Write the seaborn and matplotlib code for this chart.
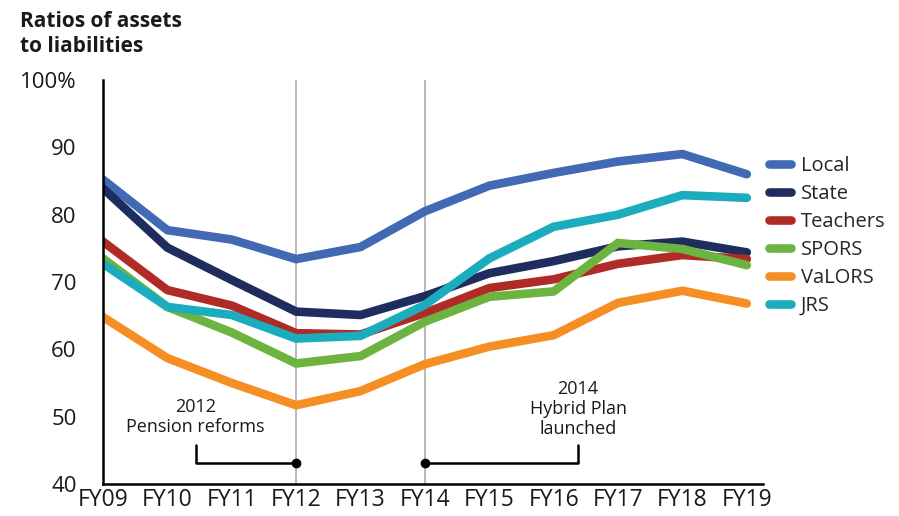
import numpy as np
import pandas as pd
import matplotlib
matplotlib.use('Agg')
import matplotlib.pyplot as plt
import seaborn as sns

sns.set_style('white')
plt.rcParams['font.family'] = ['Open Sans', 'DejaVu Sans']

years = ['FY09', 'FY10', 'FY11', 'FY12', 'FY13', 'FY14', 'FY15', 'FY16', 'FY17', 'FY18', 'FY19']
local = [85.2, 77.7, 76.3, 73.4, 75.2, 80.5, 84.3, 86.2, 87.9, 89.0, 86.0]
state = [83.9, 75.1, 70.3, 65.6, 65.1, 67.9, 71.3, 73.1, 75.3, 76.0, 74.4]
teachers = [76.0, 68.8, 66.5, 62.4, 62.2, 65.4, 69.1, 70.4, 72.7, 74.0, 73.4]
spors = [73.5, 66.3, 62.5, 57.9, 59.0, 64.1, 67.8, 68.6, 75.8, 74.9, 72.5]
valors = [64.8, 58.7, 55.0, 51.7, 53.8, 57.8, 60.4, 62.1, 66.9, 68.7, 66.8]
jrs = [72.7, 66.3, 65.1, 61.6, 62.0, 66.6, 73.5, 78.2, 80.0, 82.9, 82.5]

systems = ['Local', 'State', 'Teachers', 'SPORS', 'VaLORS', 'JRS']
colors = ['#4169B4', '#1F2D5E', '#B02A26', '#6DB33F', '#F58E23', '#1BACBE']
y_ticks = [40, 50, 60, 70, 80, 90, 100]
y_labels = ['40', '50', '60', '70', '80', '90', '100%']

df = pd.DataFrame({'Local': local, 'State': state, 'Teachers': teachers,
                   'SPORS': spors, 'VaLORS': valors, 'JRS': jrs})
df['idx'] = np.arange(len(years))
long_df = df.melt(id_vars='idx', var_name='system', value_name='ratio')

fig = plt.figure(figsize=(8.99, 5.16), dpi=100)
ax = fig.add_axes([0.1146, 0.062, 0.734, 0.783])

ax.axvline(3, color='#A6A6A6', lw=1.1, zorder=0)
ax.axvline(5, color='#A6A6A6', lw=1.1, zorder=0)

sns.lineplot(data=long_df, x='idx', y='ratio', hue='system', hue_order=systems,
             palette=colors, lw=6.2, ax=ax, legend=False)
for ln in ax.get_lines()[2:]:
    ln.set_solid_capstyle('round')
    ln.set_solid_joinstyle('miter')

ax.set_xlim(0, 10.25)
ax.set_ylim(40, 100)
ax.set_xticks(range(len(years)))
ax.set_xticklabels(years, fontsize=16.5)
ax.set_yticks(y_ticks)
ax.set_yticklabels(y_labels, fontsize=16)
ax.tick_params(axis='x', length=0, pad=3, colors='#1a1a1a')
ax.tick_params(axis='y', length=7, width=1.5, color='#B0B0B0', pad=12, labelcolor='#1a1a1a')
ax.set_xlabel('')
ax.set_ylabel('')
for s in ['top', 'right']:
    ax.spines[s].set_visible(False)
for s in ['left', 'bottom']:
    ax.spines[s].set_color('black')
    ax.spines[s].set_linewidth(1.8)

# annotation brackets
ax.plot([1.44, 1.44, 3], [45.8, 43.1, 43.1], color='black', lw=1.8, clip_on=False)
ax.plot([5, 7.38, 7.38], [43.1, 43.1, 45.8], color='black', lw=1.8, clip_on=False)
ax.plot([3, 5], [43.1, 43.1], 'o', color='black', ms=6)
ax.text(1.44, 50.0, '2012\nPension reforms', ha='center', va='center', fontsize=13,
        linespacing=1.15, color='#1a1a1a')
ax.text(7.38, 51.1, '2014\nHybrid Plan\nlaunched', ha='center', va='center', fontsize=13,
        linespacing=1.15, color='#1a1a1a')

handles = [plt.Line2D([], [], color=c, lw=6.2, solid_capstyle='round') for c in colors]
fig.legend(handles, systems, loc='upper left', bbox_to_anchor=(0.855, 0.698),
           frameon=False, fontsize=14.5, handlelength=1.1, handletextpad=0.5,
           labelspacing=0.4, borderpad=0, borderaxespad=0)

fig.text(0.022, 0.978, 'Ratios of assets\nto liabilities', ha='left', va='top',
         fontsize=15, fontweight='bold', linespacing=1.2, color='#1a1a1a')

fig.savefig('out.png', dpi=100)
